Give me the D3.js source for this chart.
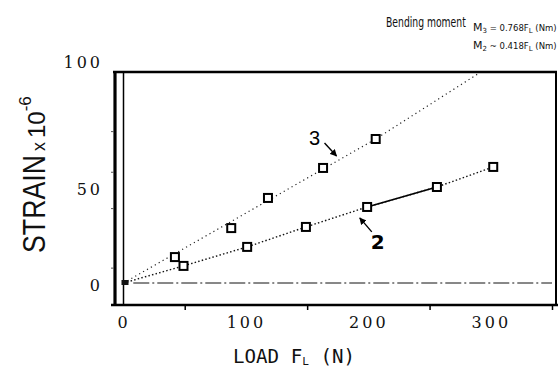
<!DOCTYPE html>
<html>
<head>
<meta charset="utf-8">
<script src="https://cdn.jsdelivr.net/npm/d3@7"></script>
<style>
   body { margin: 0; background: #fff; }
   svg { display: block; }
</style>
</head>
<body>
<svg id="chart" width="559" height="380"></svg>
<script>
// strain curves
let load3 = [42, 88, 118, 163, 206];
let strain3 = [13.5, 28.6, 44.3, 57.5, 68.9];
let load2 = [0, 49, 101, 149, 199, 256, 302];
let strain2 = [0, 8.9, 18.8, 29.2, 39.6, 50, 57.9];
// dotted trend line for curve 3
let fitLoad3 = [0, 206, 291];
let fitStrain3 = [0, 68.9, 95];
let xTickLabels = [0, 100, 200, 300];
let xTickMarks = [50, 150, 250, 350];
let yTickLabels = [0, 50, 100];
let yMinorTicks = [8, 39, 56, 72];
let curveNames = ["3", "2"];
let arrowLoad = [174, 193];
let arrowStrain = [62.2, 33.9];

window.onload = function() {
   drawChart();
}

function drawChart() {
   let frame = {left: 115, top: 72, right: 556, bottom: 305};
   let svg = d3.select("svg#chart");

   let x = d3.scaleLinear()
      .domain([0, 350])
      .range([123.5, 552]);
   // the scan's value axis is not evenly spaced, so the scale has a knot at 50
   let y = d3.scaleLinear()
      .domain([0, 50, 100])
      .range([283, 187, 60]);

   // frame
   svg.append("line")
      .attr("x1", frame.left).attr("x2", frame.left)
      .attr("y1", frame.top - 1).attr("y2", frame.bottom + 1)
      .attr("stroke", "#000").attr("stroke-width", 3.2);
   svg.append("line")
      .attr("x1", x(0)).attr("x2", x(0))
      .attr("y1", frame.top).attr("y2", frame.bottom)
      .attr("stroke", "#000").attr("stroke-width", 1.5);
   svg.append("line")
      .attr("x1", frame.left - 2).attr("x2", frame.right + 1)
      .attr("y1", frame.top).attr("y2", frame.top)
      .attr("stroke", "#000").attr("stroke-width", 2.6);
   svg.append("line")
      .attr("x1", frame.right).attr("x2", frame.right)
      .attr("y1", frame.top).attr("y2", frame.bottom)
      .attr("stroke", "#000").attr("stroke-width", 2);

   // bottom axis: ticks at the half hundreds, labels on the hundreds
   let bottomTicks = d3.axisBottom(x)
      .tickValues(xTickMarks)
      .tickSize(5)
      .tickFormat("")
      .tickSizeOuter(0);
   let gb = svg.append("g")
      .attr("transform", "translate(0," + frame.bottom + ")")
      .call(bottomTicks);
   gb.select(".domain").remove();
   gb.selectAll("line").attr("stroke-width", 1.5);
   svg.append("line")
      .attr("x1", frame.left - 4).attr("x2", frame.right + 2)
      .attr("y1", frame.bottom).attr("y2", frame.bottom)
      .attr("stroke", "#000").attr("stroke-width", 2.6);

   let bottomLabels = d3.axisBottom(x)
      .tickValues(xTickLabels)
      .tickSize(0)
      .tickPadding(12);
   let gl = svg.append("g")
      .attr("transform", "translate(0," + frame.bottom + ")")
      .call(bottomLabels);
   gl.select(".domain").remove();
   gl.selectAll("text")
      .attr("font-family", "DejaVu Serif")
      .attr("font-size", 16)
      .attr("letter-spacing", "3px")
      .attr("fill", "#111");

   // left axis
   let leftLabels = d3.axisLeft(y)
      .tickValues(yTickLabels)
      .tickSize(0)
      .tickPadding(frame.left - 103);
   let gy = svg.append("g")
      .attr("transform", "translate(" + frame.left + ",0)")
      .call(leftLabels);
   gy.select(".domain").remove();
   gy.selectAll("text")
      .attr("font-family", "DejaVu Serif")
      .attr("font-size", 16)
      .attr("letter-spacing", "3px")
      .attr("dy", "0.45em")
      .attr("fill", "#111");

   let leftMinor = d3.axisLeft(y)
      .tickValues(yMinorTicks)
      .tickSize(3)
      .tickFormat("");
   let gm = svg.append("g")
      .attr("transform", "translate(" + (frame.left - 1) + ",0)")
      .call(leftMinor);
   gm.select(".domain").remove();
   gm.selectAll("line").attr("stroke", "#555");

   // zero line
   svg.append("line")
      .attr("x1", x(8)).attr("x2", frame.right - 4)
      .attr("y1", y(0)).attr("y2", y(0))
      .attr("stroke", "#111")
      .attr("stroke-width", 1)
      .attr("stroke-dasharray", "16,3,2,3");

   let line = d3.line()
      .x(d => x(d[0]))
      .y(d => y(d[1]));

   // curve 3 trend
   svg.append("path")
      .datum(d3.zip(fitLoad3, fitStrain3))
      .attr("d", line)
      .attr("fill", "none")
      .attr("stroke", "#222")
      .attr("stroke-width", 1.2)
      .attr("stroke-dasharray", "1.2,3.3");

   // curve 2 through its points, one solid span
   let pts2 = d3.zip(load2, strain2);
   svg.append("path")
      .datum(pts2)
      .attr("d", line)
      .attr("fill", "none")
      .attr("stroke", "#111")
      .attr("stroke-width", 1.4)
      .attr("stroke-dasharray", "1.5,2.2");
   svg.append("path")
      .datum(pts2.slice(4, 6))
      .attr("d", line)
      .attr("fill", "none")
      .attr("stroke", "#000")
      .attr("stroke-width", 1.6);

   // markers
   let markers = d3.zip(load3, strain3).concat(pts2.slice(1));
   svg.append("g").selectAll("rect")
      .data(markers)
      .join("rect")
         .attr("x", d => x(d[0]) - 4)
         .attr("y", d => y(d[1]) - 4)
         .attr("width", 8)
         .attr("height", 8)
         .attr("fill", "#fff")
         .attr("stroke", "#000")
         .attr("stroke-width", 2);
   svg.append("rect")
      .attr("x", x(0) - 2).attr("y", y(0) - 3)
      .attr("width", 7).attr("height", 5)
      .attr("fill", "#111");

   // curve labels with arrows
   svg.append("defs").append("marker")
      .attr("id", "head")
      .attr("viewBox", "0 0 10 10")
      .attr("refX", 9).attr("refY", 5)
      .attr("markerWidth", 5).attr("markerHeight", 5)
      .attr("orient", "auto")
      .append("path")
         .attr("d", "M0,0 L10,5 L0,10 z")
         .attr("fill", "#000");
   let labelOffset = [[-22, -18], [18, 24]];
   let tailOffset = [[-12, -13], [12, 14]];
   curveNames.forEach(function(name, i) {
      let tx = x(arrowLoad[i]);
      let ty = y(arrowStrain[i]);
      svg.append("line")
         .attr("x1", tx + tailOffset[i][0]).attr("y1", ty + tailOffset[i][1])
         .attr("x2", tx).attr("y2", ty)
         .attr("stroke", "#000")
         .attr("stroke-width", 1.4)
         .attr("marker-end", "url(#head)");
      svg.append("text")
         .attr("x", tx + labelOffset[i][0])
         .attr("y", ty + labelOffset[i][1])
         .attr("text-anchor", "middle")
         .attr("dy", "0.35em")
         .attr("font-family", i == 0 ? "Liberation Sans" : "DejaVu Sans")
         .attr("font-weight", i == 0 ? "normal" : "bold")
         .attr("font-size", 20)
         .text(name);
   });

   // axis titles
   let xt = svg.append("text")
      .attr("x", 233)
      .attr("y", 363)
      .attr("font-family", "DejaVu Sans Mono")
      .attr("font-size", 19)
      .attr("fill", "#111");
   xt.append("tspan").text("LOAD F");
   xt.append("tspan").attr("font-size", 11).attr("dy", 2).text("L");
   xt.append("tspan").attr("dy", -2).text(" (N)");
   xt.attr("textLength", 122).attr("lengthAdjust", "spacingAndGlyphs");

   let yt = svg.append("text")
      .attr("transform", "translate(45,253) rotate(-90)")
      .attr("font-family", "Liberation Sans")
      .attr("font-size", 31)
      .attr("fill", "#111");
   yt.append("tspan").attr("textLength", 98).attr("lengthAdjust", "spacingAndGlyphs").text("STRAIN");
   yt.append("tspan").attr("font-size", 18).attr("dx", 4).text("x");
   yt.append("tspan").attr("font-size", 24).attr("dx", 4).text("10");
   yt.append("tspan").attr("font-size", 17).attr("dy", -14).text("-6");

   // bending moment note
   let note = svg.append("g").attr("font-family", "DejaVu Sans").attr("fill", "#111");
   note.append("text")
      .attr("transform", "translate(386,27) scale(0.66,1)")
      .attr("font-size", 14)
      .text("Bending moment");
   let m3 = note.append("text").attr("x", 473).attr("y", 31).attr("font-size", 8.5);
   m3.append("tspan").attr("font-size", 11).text("M");
   m3.append("tspan").attr("font-size", 7).attr("dy", 2).text("3");
   m3.append("tspan").attr("dy", -2).text(" = 0.768F");
   m3.append("tspan").attr("font-size", 7).attr("dy", 2).text("L");
   m3.append("tspan").attr("dy", -2).text(" (Nm)");
   let m2 = note.append("text").attr("x", 473).attr("y", 49).attr("font-size", 8.5);
   m2.append("tspan").attr("font-size", 11).text("M");
   m2.append("tspan").attr("font-size", 7).attr("dy", 2).text("2");
   m2.append("tspan").attr("dy", -2).text(" ~ 0.418F");
   m2.append("tspan").attr("font-size", 7).attr("dy", 2).text("L");
   m2.append("tspan").attr("dy", -2).text(" (Nm)");
}
</script>
</body>
</html>
